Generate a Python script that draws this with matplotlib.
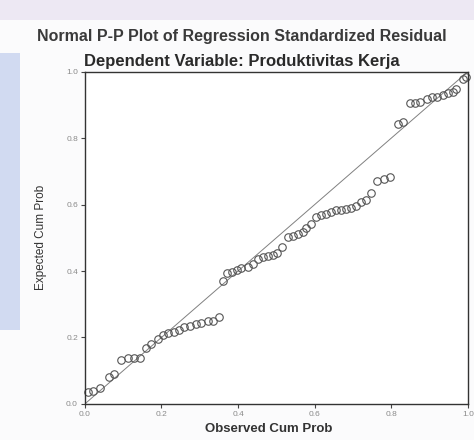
import matplotlib
matplotlib.use("Agg")
import matplotlib.pyplot as plt
from matplotlib.patches import Rectangle

plt.rcParams['font.family'] = ['Liberation Sans', 'DejaVu Sans']

title = "Normal P-P Plot of Regression Standardized Residual"
subtitle = "Dependent Variable: Produktivitas Kerja"
xlabel = "Observed Cum Prob"
ylabel = "Expected Cum Prob"

observed = [0.009, 0.022, 0.040, 0.062, 0.075, 0.094, 0.112, 0.128, 0.143, 0.160,
            0.173, 0.191, 0.204, 0.217, 0.234, 0.247, 0.260, 0.275, 0.291, 0.304,
            0.322, 0.335, 0.349, 0.361, 0.372, 0.385, 0.398, 0.409, 0.425, 0.438,
            0.451, 0.464, 0.477, 0.490, 0.501, 0.514, 0.530, 0.543, 0.556, 0.569,
            0.577, 0.590, 0.604, 0.617, 0.630, 0.643, 0.656, 0.669, 0.682, 0.695,
            0.709, 0.722, 0.735, 0.748, 0.762, 0.780, 0.798, 0.818, 0.831, 0.850,
            0.863, 0.876, 0.894, 0.907, 0.920, 0.934, 0.947, 0.960, 0.968, 0.987,
            0.995]
expected = [0.036, 0.038, 0.047, 0.082, 0.091, 0.133, 0.138, 0.138, 0.137, 0.167,
            0.181, 0.196, 0.207, 0.213, 0.218, 0.224, 0.233, 0.235, 0.241, 0.243,
            0.249, 0.251, 0.263, 0.371, 0.395, 0.398, 0.403, 0.409, 0.411, 0.420,
            0.437, 0.443, 0.446, 0.448, 0.454, 0.471, 0.501, 0.506, 0.512, 0.518,
            0.529, 0.541, 0.564, 0.570, 0.573, 0.578, 0.584, 0.583, 0.586, 0.591,
            0.597, 0.607, 0.615, 0.636, 0.671, 0.677, 0.682, 0.844, 0.850, 0.907,
            0.906, 0.909, 0.917, 0.923, 0.925, 0.931, 0.936, 0.939, 0.948, 0.977,
            0.983]

ticks = [0.0, 0.2, 0.4, 0.6, 0.8, 1.0]
xtick_labels = ["0.0", "0.2", "0.4", "0.6", "0.8", "1.0"]
ytick_labels = ["0.0", "0.2", "0.4", "0.6", "0.8", "1.0"]

fig = plt.figure(figsize=(4.74, 4.40), dpi=100)
fig.patch.set_facecolor('#fbfbfc')

# scan tint on the left edge and top
fig.patches.append(Rectangle((0.0, 0.25), 0.042, 0.63, transform=fig.transFigure,
                             facecolor='#c3d0ee', edgecolor='none', alpha=0.75, zorder=0))
fig.patches.append(Rectangle((0.0, 0.955), 1.0, 0.045, transform=fig.transFigure,
                             facecolor='#e8e0f0', edgecolor='none', alpha=0.7, zorder=0))

ax = fig.add_axes([0.179, 0.082, 0.808, 0.755])
ax.set_facecolor('white')

ax.plot([0, 1], [0, 1], color='#808080', linewidth=0.7, zorder=1)
ax.plot(observed, expected, linestyle='none', marker='o', markersize=5.4,
        markerfacecolor='none', markeredgecolor='#555555', markeredgewidth=0.8,
        zorder=2, clip_on=False)

ax.set_xlim(0, 1)
ax.set_ylim(0, 1)
ax.set_xticks(ticks)
ax.set_yticks(ticks)
ax.set_xticklabels(xtick_labels)
ax.set_yticklabels(ytick_labels)
ax.tick_params(axis='both', direction='out', length=3, width=0.8,
               labelsize=6, labelcolor='#8a8a8a', color='#444444', pad=2)

for s in ax.spines.values():
    s.set_color('#333333')
    s.set_linewidth(1.0)

ax.set_xlabel(xlabel, fontsize=9.5, fontweight='bold', color='#333333')
ax.xaxis.set_label_coords(0.48, -0.058)
ax.set_ylabel(ylabel, fontsize=8.5, color='#333333', labelpad=14)

fig.text(0.51, 0.916, title, ha='center', va='center', fontsize=11.5,
         fontweight='bold', color='#3a3a3a')
fig.text(0.511, 0.861, subtitle, ha='center', va='center', fontsize=12,
         fontweight='bold', color='#2a2a2a')

fig.savefig('out.png', dpi=100, facecolor=fig.get_facecolor())
